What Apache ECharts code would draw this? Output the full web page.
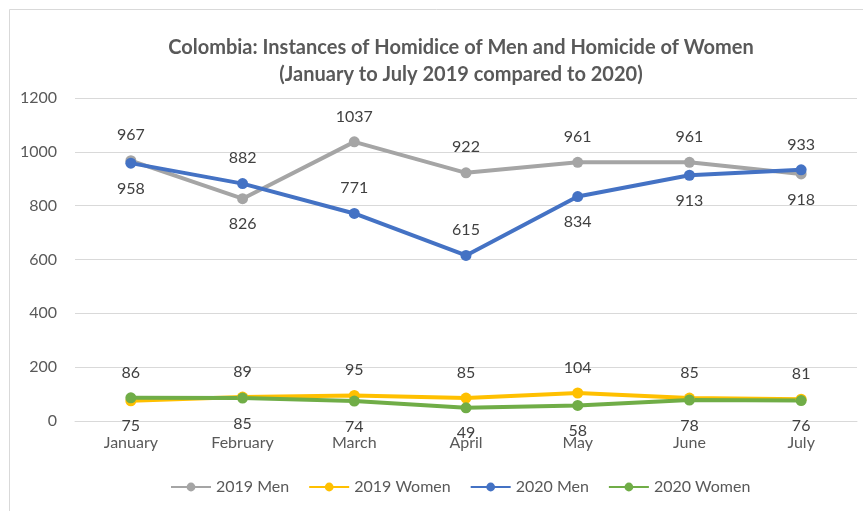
<!DOCTYPE html>
<html>
<head>
<meta charset="utf-8">
<script src="https://cdn.jsdelivr.net/npm/echarts@6/dist/echarts.min.js"></script>
<style>html,body{margin:0;padding:0;background:#fff;}#c{width:863px;height:511px;}</style>
</head>
<body>
<div id="c"></div>
<script>
const months = ['January','February','March','April','May','June','July'];
const men2019 = [967, 826, 1037, 922, 961, 961, 918];
const women2019 = [75, 89, 95, 85, 104, 85, 81];
const men2020 = [958, 882, 771, 615, 834, 913, 933];
const women2020 = [86, 85, 74, 49, 58, 78, 76];
const yTicks = [0, 200, 400, 600, 800, 1000, 1200];

// label placement per point (style)
const men2019Pos = ['top','bottom','top','top','top','top','bottom'];
const women2019Pos = ['bottom','top','top','top','top','top','top'];
const men2020Pos = ['bottom','top','top','top','bottom','bottom','top'];
const women2020Pos = ['top','bottom','bottom','bottom','bottom','bottom','bottom'];

const FONT = 'Lato, "Open Sans", sans-serif';
function mk(name, vals, pos, color) {
  return {
    name: name, type: 'line',
    data: vals.map((v, i) => ({ value: v, label: { position: pos[i] } })),
    symbol: 'circle', symbolSize: 11,
    lineStyle: { width: 4, color: color },
    itemStyle: { color: color },
    label: { show: true, distance: 12, color: '#404040', fontSize: 16, fontFamily: FONT },
    animation: false
  };
}

const chart = echarts.init(document.getElementById('c'));
chart.setOption({
  backgroundColor: '#fff',
  animation: false,
  title: {
    text: 'Colombia: Instances of Homidice of Men and Homicide of Women\n(January to July 2019 compared to 2020)',
    left: 456, top: 29, textAlign: 'center',
    textStyle: { fontFamily: FONT, fontWeight: 'bold', fontSize: 20, color: '#595959', lineHeight: 27 }
  },
  graphic: [{
    type: 'rect', shape: { x: 9.5, y: 9.5, width: 900, height: 600 },
    style: { fill: 'none', stroke: '#d9d9d9', lineWidth: 1 }, silent: true
  }],
  legend: {
    bottom: 11, left: 165,
    itemWidth: 40, itemHeight: 11, itemGap: 19,
    textStyle: { fontFamily: FONT, fontSize: 16, color: '#595959' },
    data: ['2019 Men', '2019 Women', '2020 Men', '2020 Women']
  },
  grid: { left: 75, right: 6, top: 98, bottom: 90, containLabel: false },
  xAxis: {
    type: 'category', data: months, boundaryGap: true,
    axisLine: { show: true, lineStyle: { color: '#d9d9d9' } },
    axisTick: { show: false },
    axisLabel: { fontFamily: FONT, fontSize: 16, color: '#595959', margin: 14 }
  },
  yAxis: {
    type: 'value', min: yTicks[0], max: yTicks[yTicks.length - 1], interval: yTicks[1] - yTicks[0],
    axisLine: { show: false }, axisTick: { show: false },
    splitLine: { lineStyle: { color: '#d9d9d9', width: 1 } },
    axisLabel: { fontFamily: FONT, fontSize: 16, color: '#595959', margin: 18, formatter: v => String(v) }
  },
  series: [
    mk('2019 Men', men2019, men2019Pos, '#A5A5A5'),
    mk('2019 Women', women2019, women2019Pos, '#FFC000'),
    mk('2020 Men', men2020, men2020Pos, '#4472C4'),
    mk('2020 Women', women2020, women2020Pos, '#70AD47')
  ]
});
</script>
</body>
</html>
